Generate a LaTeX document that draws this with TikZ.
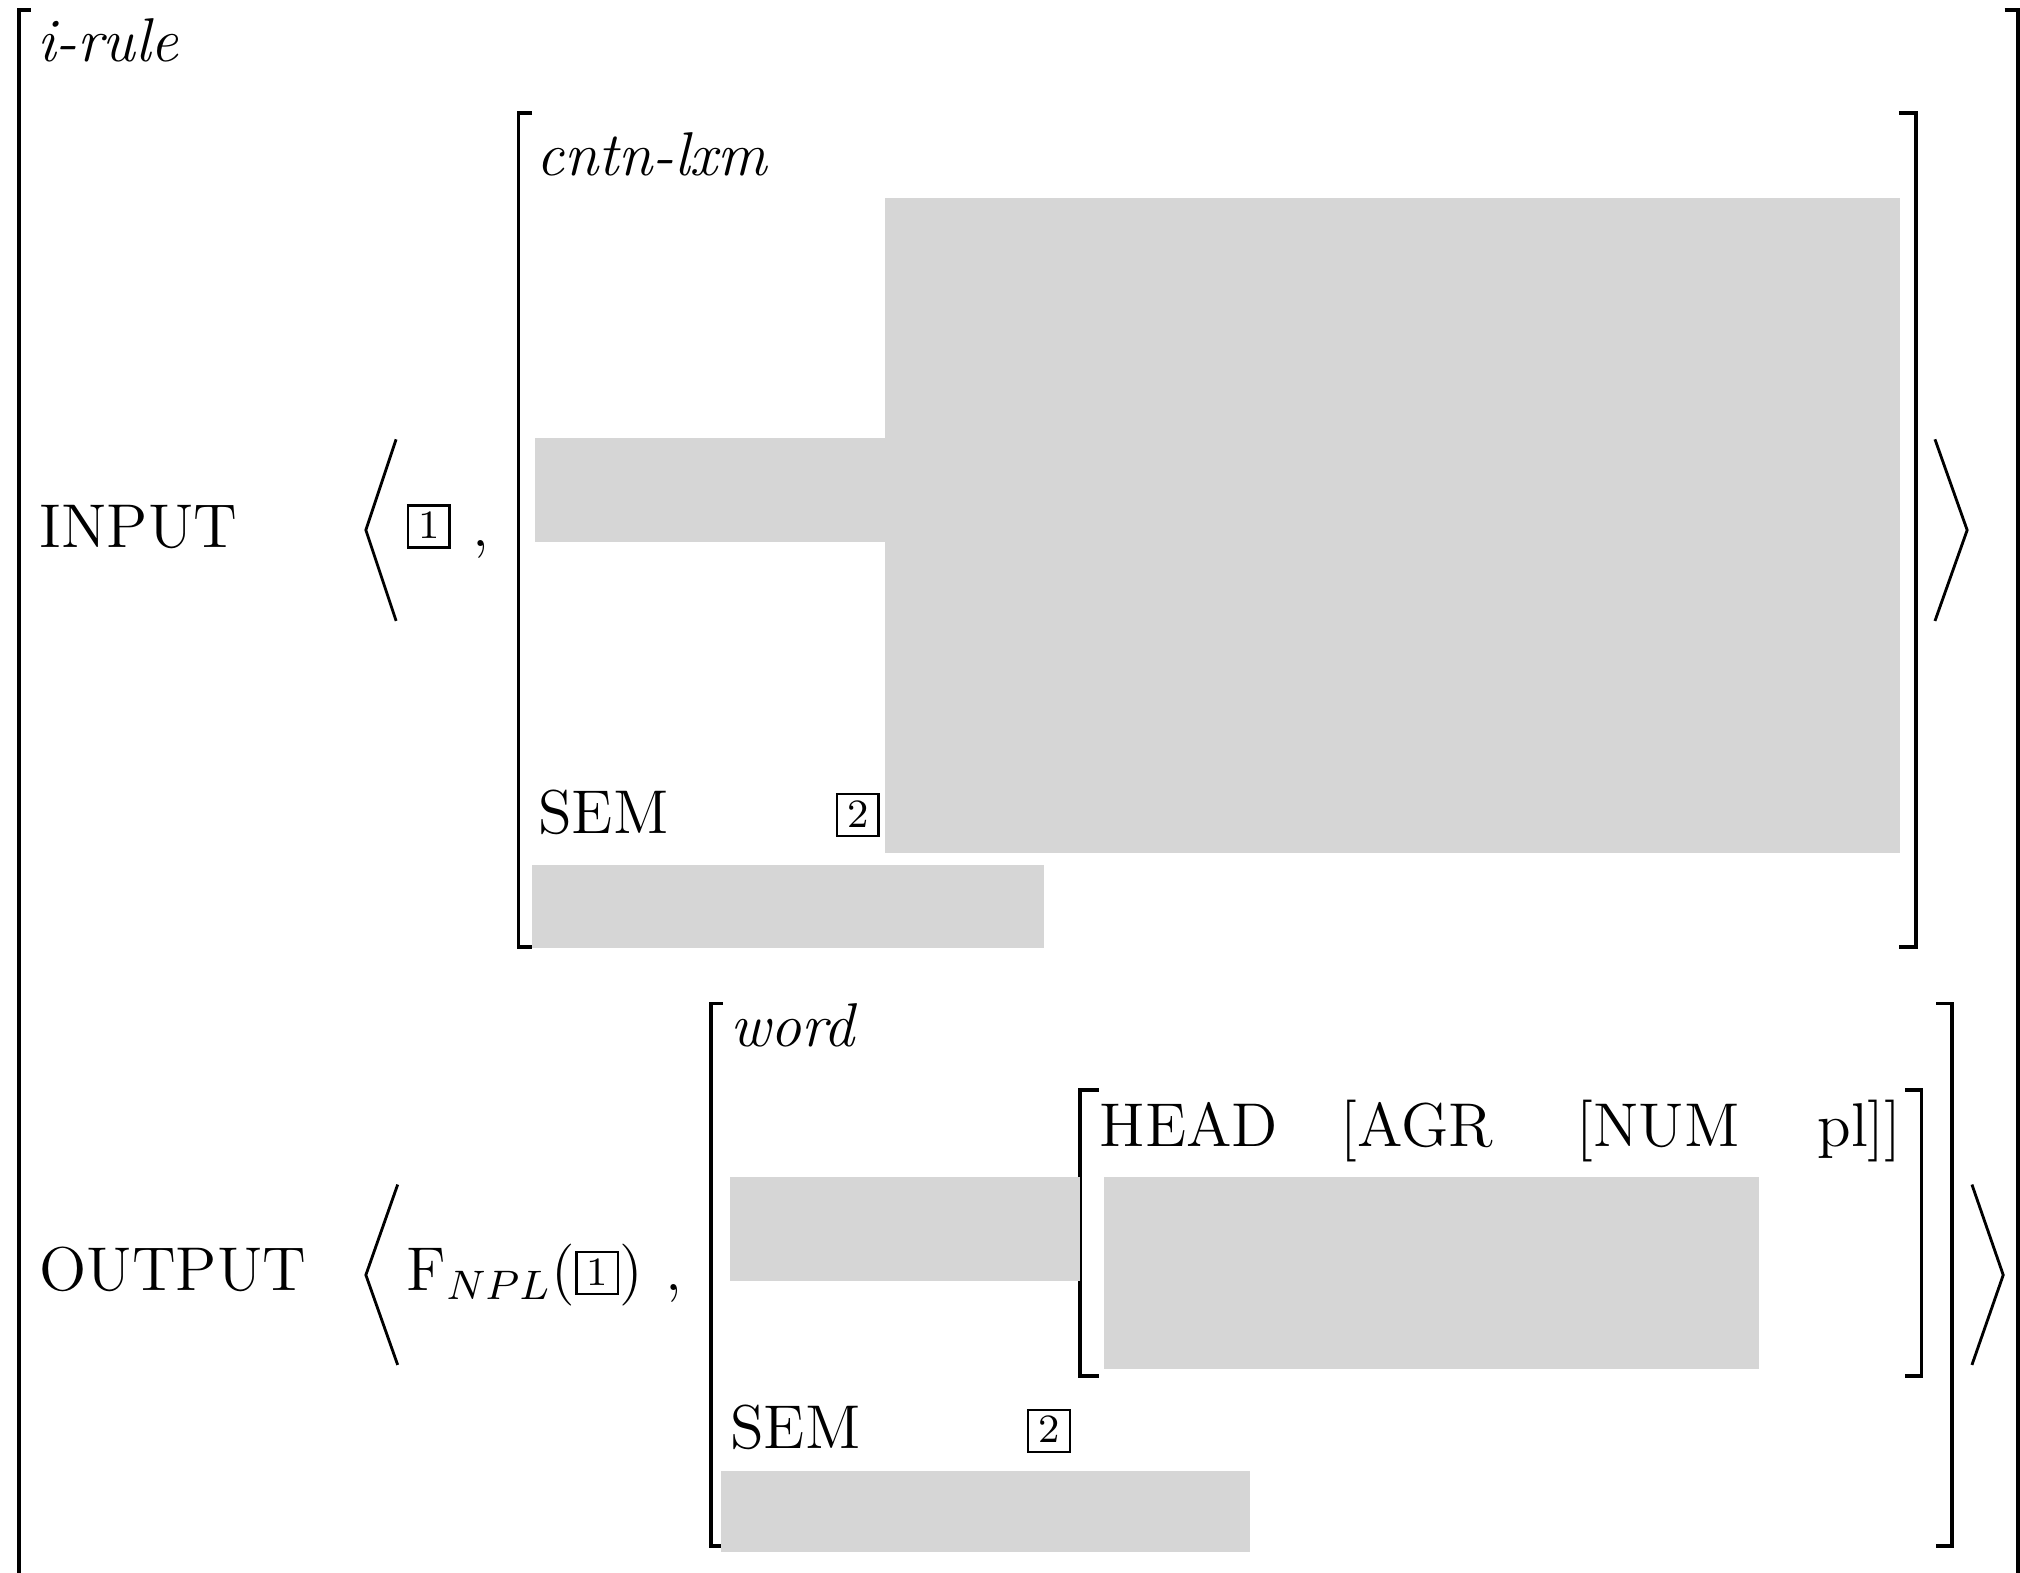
\documentclass[tikz,border=0pt]{standalone}
\usepackage{amsmath}
\usepackage{amssymb}
\usepackage{tikz}
\definecolor{redactgray}{RGB}{214,214,214}
\newcommand{\tagbox}[1]{{\setlength{\fboxsep}{0pt}\setlength{\fboxrule}{0.45pt}%
  \fbox{\rule[-0.55pt]{0pt}{7.7pt}\makebox[7.6pt]{\raisebox{1pt}{\fontsize{7.8}{8}\selectfont #1}}}}}

\begin{document}
\begin{tikzpicture}[x=0.25pt,y=0.25pt,yscale=-1,xscale=1,
    brk/.style={line width=0.75pt},
    ang/.style={line width=0.55pt},
    redact/.style={fill=redactgray,draw=none},
    lbl/.style={anchor=base west,inner sep=0pt,font=\fontsize{12}{14.4}\selectfont}]
      \useasboundingbox (0,0) rectangle (1568,1221);
      % outer bracket
      \draw [brk]  (24,8) -- (14.5,8) -- (14.5,1230) ;
      \draw [brk]  (1556,8) -- (1566.5,8) -- (1566.5,1230) ;
      \node (irule) at (28,48) [lbl] {\textit{i-rule}};
      % INPUT
      \node (inputlbl) at (30,425) [lbl] {INPUT};
      \draw [ang]  (307.5,341) -- (284,411.5) -- (307.5,482) ;
      \node (intag1) at (315,422) [lbl] {\tagbox{1}};
      \node (incomma) at (366,424) [lbl] {,};
      \draw [brk]  (413,88) -- (402.5,88) -- (402.5,735) -- (413,735) ;
      \draw [brk]  (1474,88) -- (1487,88) -- (1487,735) -- (1474,735) ;
      \node (cntn) at (416,136) [lbl] {\textit{cntn-lxm}};
      \node (insem) at (417,647) [lbl] {SEM};
      \node (intag2) at (648,646) [lbl] {\tagbox{2}};
      \draw [ang]  (1502,341) -- (1527,411.5) -- (1502,482) ;
      % OUTPUT
      \node (outputlbl) at (30,1002) [lbl] {OUTPUT};
      \draw [ang]  (308.7,919.5) -- (284,989.7) -- (308.7,1059.5) ;
      \node (fnpl) at (315,1001.5) [lbl] {$\mathrm{F}_{NPL}($\tagbox{1}$)$};
      \node (outcomma) at (516,1001.5) [lbl] {,};
      \draw [brk]  (561,779) -- (551.7,779) -- (551.7,1200) -- (561,1200) ;
      \draw [brk]  (1503,779) -- (1515.5,779) -- (1515.5,1200) -- (1503,1200) ;
      \node (word) at (566,812.5) [lbl] {\textit{word}};
      \draw [brk]  (853,846) -- (838.5,846) -- (838.5,1068) -- (853,1068) ;
      \draw [brk]  (1479,846) -- (1491.5,846) -- (1491.5,1068) -- (1479,1068) ;
      \node (head) at (853,890) [lbl] {HEAD};
      \node (agr) at (1040,890) [lbl] {[AGR};
      \node (num) at (1223,890) [lbl] {[NUM};
      \node (pl) at (1410,890) [lbl] {pl]]};
      \node (outsem) at (566,1124) [lbl] {SEM};
      \node (outtag2) at (796.5,1124) [lbl] {\tagbox{2}};
      \draw [ang]  (1530.7,919.5) -- (1555,989.7) -- (1530.7,1059.5) ;
      % grey boxes
      \fill [redact] (415,340) rectangle (687,420.5) ;
      \fill [redact] (687,153.7) rectangle (1474.5,662) ;
      \fill [redact] (413,671.6) rectangle (810.6,735.5) ;
      \fill [redact] (566.5,913.8) rectangle (838,994.5) ;
      \fill [redact] (856.6,913.8) rectangle (1365.6,1062.5) ;
      \fill [redact] (560,1141.7) rectangle (970.6,1205) ;
    \end{tikzpicture}
\end{document}
